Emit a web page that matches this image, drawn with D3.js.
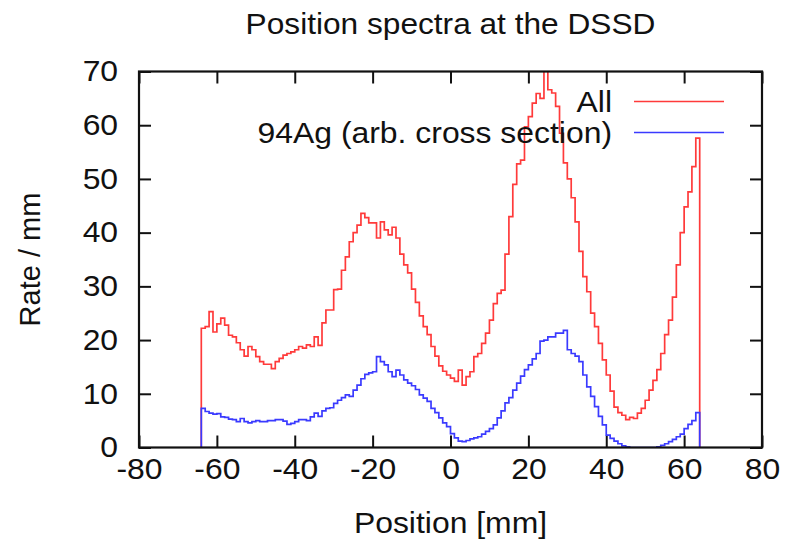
<!DOCTYPE html>
<html>
<head>
<meta charset="utf-8">
<script src="https://cdn.jsdelivr.net/npm/d3@7/dist/d3.min.js"></script>
<style>
  html, body { margin: 0; padding: 0; background: #fff; }
  text { font-family: "Liberation Sans", Arial, Helvetica, sans-serif; fill: #111; }
</style>
</head>
<body>
<svg id="chart" width="788" height="546"></svg>
<script>
// Labels
const title = "Position spectra at the DSSD";
const xLabel = "Position [mm]";
const yLabel = "Rate / mm";

// Axis ticks
const xTicks = [-80, -60, -40, -20, 0, 20, 40, 60, 80];
const yTicks = [0, 10, 20, 30, 40, 50, 60, 70];

// Histogram binning: 1 mm bins covering the detector, -64 mm .. 64 mm
const binLow = -64;
const binHigh = 64;

// Rate per bin, all ions (bins -64 .. 63)
const allRate = [
  22.2, 22.5, 25.3, 21.5, 23.0, 24.1, 22.8, 20.9, 20.6, 19.5,
  18.2, 17.0, 18.8, 18.2, 16.9, 16.0, 15.5, 15.5, 14.7, 16.0,
  16.6, 17.2, 17.5, 17.8, 18.2, 18.8, 18.5, 19.1, 18.8, 20.6,
  19.0, 23.2, 25.6, 25.6, 29.4, 29.5, 33.0, 35.5, 38.3, 40.0,
  41.4, 43.6, 42.8, 41.8, 41.8, 39.0, 42.0, 40.5, 39.6, 41.0,
  39.0, 36.0, 34.0, 32.5, 29.5, 27.0, 24.5, 22.5, 21.0, 18.8,
  17.0, 15.2, 14.2, 13.5, 12.9, 12.3, 14.4, 11.6, 13.2, 14.1,
  16.9, 17.5, 19.4, 21.3, 23.7, 26.8, 28.7, 29.3, 36.0, 43.0,
  49.0, 52.8, 53.5, 59.7, 61.6, 64.1, 65.9, 65.0, 71.0, 66.6,
  66.0, 63.5, 58.5, 53.0, 50.0, 46.5, 42.0, 36.5, 31.8, 29.0,
  25.0, 22.5, 19.4, 16.3, 13.5, 10.5, 7.5, 6.5, 6.0, 5.2,
  5.6, 5.4, 6.4, 7.3, 8.8, 10.7, 12.5, 14.5, 17.5, 21.0,
  23.7, 28.0, 34.0, 40.0, 44.8, 47.6, 52.3, 57.6
];

// Rate per bin, 94Ag (arbitrary cross section), same bins
const agRate = [
  7.3, 6.7, 6.4, 6.2, 6.3, 5.7, 5.6, 5.3, 5.2, 4.8,
  5.4, 4.8, 4.6, 4.8, 5.0, 4.8, 4.8, 5.0, 5.0, 5.2,
  5.2, 4.9, 4.3, 4.5, 4.8, 5.2, 5.2, 5.0, 5.7, 6.4,
  5.8, 6.8, 7.3, 7.4, 8.2, 8.8, 9.3, 9.8, 9.5, 10.7,
  11.6, 12.8, 13.6, 13.9, 14.1, 16.9, 16.0, 15.4, 14.1, 13.2,
  14.4, 13.5, 12.6, 12.0, 11.5, 10.8, 9.8, 9.2, 8.6, 7.3,
  6.5, 5.5, 4.6, 3.9, 2.6, 1.8, 1.2, 1.1, 1.3, 1.6,
  1.8, 2.0, 2.5, 3.0, 3.5, 4.2, 5.5, 6.8, 8.3, 9.3,
  10.7, 12.0, 13.3, 14.5, 15.4, 16.5, 17.5, 19.8, 20.0, 20.6,
  20.6, 21.3, 21.3, 21.8, 18.2, 17.5, 17.0, 16.0, 13.5, 11.3,
  9.5, 7.6, 5.8, 4.2, 2.3, 1.7, 1.2, 0.7, 0.3, 0.1,
  0.0, 0.0, 0.0, 0.0, 0.0, 0.0, 0.0, 0.1, 0.4, 0.7,
  1.1, 1.5, 2.0, 2.5, 3.5, 4.3, 5.0, 6.5
];

const seriesNames = ["All", "94Ag (arb. cross section)"];
const seriesValues = [allRate, agRate];
const seriesColors = ["#ff3a3a", "#3a3aff"];

// Layout
const plot = { left: 139, right: 762, top: 71.5, bottom: 447.5 };
const fontSize = 29;
const textStretch = 1.1;   // slightly wide lettering

const svg = d3.select("#chart");

const x = d3.scaleLinear().domain([-80, 80]).range([plot.left, plot.right]);
const y = d3.scaleLinear().domain([0, 70]).range([plot.bottom, plot.top]);

// Clip the curves to the frame
svg.append("defs").append("clipPath").attr("id", "plot-clip")
  .append("rect")
  .attr("x", plot.left).attr("y", plot.top)
  .attr("width", plot.right - plot.left).attr("height", plot.bottom - plot.top);

// Axes with inward ticks on all four sides
const tickLen = 12;
const plainNumber = d => String(d);
const styleAxis = g => {
  g.select(".domain").remove();
  g.selectAll(".tick line").attr("stroke", "#111").attr("stroke-width", 2);
  g.selectAll(".tick text")
    .style("font-size", fontSize + "px")
    .attr("fill", "#111")
    .attr("transform", `scale(${textStretch},1)`);
};

svg.append("g")
  .attr("transform", `translate(0,${plot.bottom})`)
  .call(d3.axisBottom(x).tickValues(xTicks).tickSize(-tickLen).tickPadding(11).tickFormat(plainNumber))
  .call(styleAxis);

svg.append("g")
  .attr("transform", `translate(0,${plot.top})`)
  .call(d3.axisTop(x).tickValues(xTicks).tickSize(-tickLen).tickFormat(""))
  .call(styleAxis);

svg.append("g")
  .attr("transform", `translate(${plot.left},0)`)
  .call(d3.axisLeft(y).tickValues(yTicks).tickSize(-tickLen).tickPadding(19).tickFormat(plainNumber))
  .call(styleAxis);

svg.append("g")
  .attr("transform", `translate(${plot.right},0)`)
  .call(d3.axisRight(y).tickValues(yTicks).tickSize(-tickLen).tickFormat(""))
  .call(styleAxis);

// Histogram curves (step outline, dropping to zero at both detector edges)
const stepLine = d3.line()
  .x(d => x(d[0]))
  .y(d => y(d[1]))
  .curve(d3.curveStepAfter);

function histPoints(values) {
  const pts = [[binLow, 0]];
  values.forEach((v, i) => pts.push([binLow + i, v]));
  pts.push([binHigh, values[values.length - 1]]);
  pts.push([binHigh, 0]);
  return pts;
}

const curves = svg.append("g").attr("clip-path", "url(#plot-clip)");
seriesValues.forEach((vals, i) => {
  curves.append("path")
    .attr("d", stepLine(histPoints(vals)))
    .attr("fill", "none")
    .attr("stroke", seriesColors[i])
    .attr("stroke-width", 1.7)
    .attr("stroke-linejoin", "miter");
});

// Frame
svg.append("rect")
  .attr("x", plot.left).attr("y", plot.top)
  .attr("width", plot.right - plot.left).attr("height", plot.bottom - plot.top)
  .attr("fill", "none").attr("stroke", "#111").attr("stroke-width", 2.2);

// Horizontally stretched text helper
function stretchedText(parent, tx, ty, str, size, anchor, stretch) {
  return parent.append("g")
    .attr("transform", `translate(${tx},${ty}) scale(${stretch},1)`)
    .append("text")
    .attr("text-anchor", anchor)
    .style("font-size", size + "px")
    .text(str);
}

// Legend
const legendTextX = 612, legendLineX0 = 634, legendLineX1 = 724;
const legendY = [101.5, 132.5];
seriesNames.forEach((name, i) => {
  stretchedText(svg, legendTextX, legendY[i], name, fontSize, "end", textStretch)
    .attr("dy", "0.35em");
  svg.append("line")
    .attr("x1", legendLineX0).attr("x2", legendLineX1)
    .attr("y1", legendY[i]).attr("y2", legendY[i])
    .attr("stroke", seriesColors[i]).attr("stroke-width", 1.7);
});

// Title and axis labels
stretchedText(svg, (plot.left + plot.right) / 2, 34, title, 30, "middle", 1.055);
stretchedText(svg, (plot.left + plot.right) / 2, 533, xLabel, fontSize, "middle", textStretch);

svg.append("text")
  .attr("transform", `translate(40,${(plot.top + plot.bottom) / 2}) rotate(-90)`)
  .attr("text-anchor", "middle")
  .style("font-size", fontSize + "px")
  .text(yLabel);
</script>
</body>
</html>
